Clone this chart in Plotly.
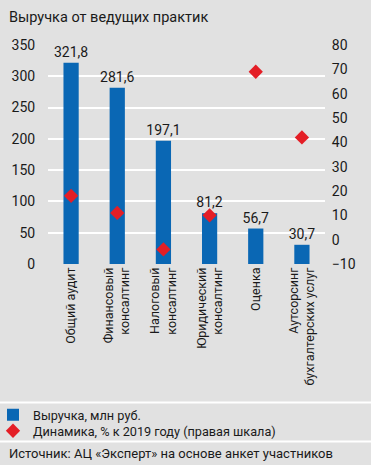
import plotly.graph_objects as go

categories = ["Общий аудит", "Финансовый<br>консалтинг", "Налоговый<br>консалтинг",
              "Юридический<br>консалтинг", "Оценка", "Аутсорсинг<br>бухгалтерских услуг"]
revenue = [321.8, 281.6, 197.1, 81.2, 56.7, 30.7]
dynamics = [18, 11, -4, 10, 69, 42]
left_ticks = [0, 50, 100, 150, 200, 250, 300, 350]
right_ticks = [-10, 0, 10, 20, 30, 40, 50, 60, 70, 80]

FONT = "Roboto, sans-serif"
BG = "#e1e1e1"
BLUE = "#0a67b4"
RED = "#e41e26"
TXT = "#1a1a1a"

W, H = 371, 465
ML, MR, MT, MB = 48, 46, 45, 201
pw = W - ML - MR
ph = H - MT - MB


def py(pix):
    return (MT + ph - pix) / ph


def px(pix):
    return (pix - ML) / pw


fig = go.Figure()
fig.add_trace(go.Bar(
    x=categories, y=revenue, name="Выручка, млн руб.", legend="legend",
    marker=dict(color=BLUE, line=dict(width=0)),
    text=[f"{v:.1f}".replace(".", ",") for v in revenue],
    textposition="outside", cliponaxis=False, constraintext="none",
    textfont=dict(family=FONT, size=14, color=TXT),
))
fig.add_trace(go.Scatter(
    x=categories, y=dynamics, yaxis="y2", mode="markers", legend="legend2",
    name="Динамика, % к 2019 году (правая шкала)",
    marker=dict(symbol="diamond", size=11, color=RED, line=dict(width=0)),
))

shapes = []
for ypix in (402.5, 441.5):
    shapes.append(dict(type="line", xref="paper", yref="paper",
                       x0=px(0), x1=px(W), y0=py(ypix), y1=py(ypix),
                       line=dict(color="white", width=2)))

leg_common = dict(xanchor="left", yanchor="top", bgcolor="rgba(0,0,0,0)",
                  font=dict(size=12.7, family=FONT, color=TXT), itemwidth=30)

fig.update_layout(
    width=W, height=H,
    margin=dict(l=ML, r=MR, t=MT, b=MB, pad=0, autoexpand=False),
    paper_bgcolor=BG, plot_bgcolor=BG,
    font=dict(family=FONT, size=13, color=TXT),
    bargap=0.67,
    showlegend=True,
    legend=dict(x=px(-7), y=py(400), **leg_common),
    legend2=dict(x=px(-7), y=py(416), **leg_common),
    xaxis=dict(tickangle=-90, showgrid=False, showline=False, ticks="",
               automargin=False, tickfont=dict(size=12.5, family=FONT)),
    yaxis=dict(range=[0, 350], tickvals=left_ticks, showgrid=True, automargin=False,
               gridcolor="white", gridwidth=2, zeroline=False, showline=False,
               ticks="outside", ticklen=9, tickcolor="rgba(0,0,0,0)",
               tickfont=dict(size=14, family=FONT)),
    yaxis2=dict(range=[-10, 80], tickvals=right_ticks, overlaying="y", side="right",
                showgrid=False, zeroline=False, showline=False, automargin=False,
                ticks="outside", ticklen=3, tickcolor="rgba(0,0,0,0)",
                tickfont=dict(size=14, family=FONT)),
    shapes=shapes,
    annotations=[
        dict(text="Выручка от ведущих практик", xref="paper", yref="paper",
             x=px(7), y=py(17), xanchor="left", yanchor="middle", showarrow=False,
             font=dict(size=14.5, family=FONT, color=TXT)),
        dict(text="Источник: АЦ «Эксперт» на основе анкет участников", xref="paper", yref="paper",
             x=px(7), y=py(453), xanchor="left", yanchor="middle", showarrow=False,
             font=dict(size=13, family=FONT, color=TXT)),
    ],
)

fig.write_html("out.html", config={"displayModeBar": False},
               post_script="document.body.style.margin='0';document.body.style.background='#e1e1e1';")
